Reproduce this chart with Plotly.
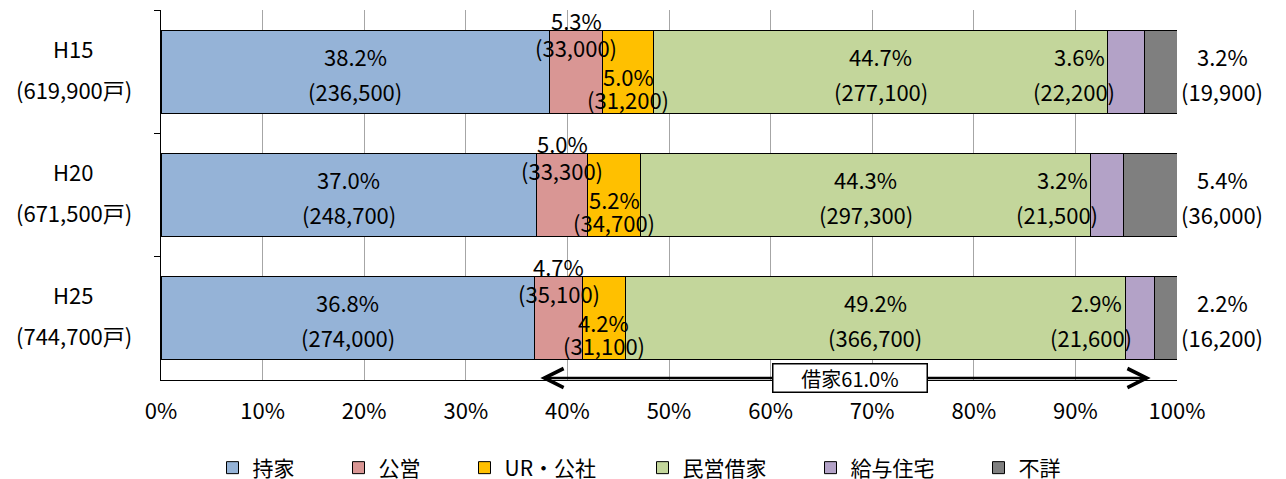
import plotly.graph_objects as go

years = ["H15", "H20", "H25"]
totals = ["619,900", "671,500", "744,700"]
series_names = ["持家", "公営", "UR・公社", "民営借家", "給与住宅", "不詳"]
colors = ["#95B3D7", "#D99694", "#FFC000", "#C3D69B", "#B3A2C7", "#7F7F7F"]
tick_values = [0, 10, 20, 30, 40, 50, 60, 70, 80, 90, 100]
tick_labels = ["0%", "10%", "20%", "30%", "40%", "50%", "60%", "70%", "80%", "90%", "100%"]

pct_owned = [38.2, 37.0, 36.8]
pct_public = [5.3, 5.0, 4.7]
pct_ur = [5.0, 5.2, 4.2]
pct_private = [44.7, 44.3, 49.2]
pct_company = [3.6, 3.2, 2.9]
pct_unknown = [3.2, 5.4, 2.2]

cnt_owned = [236500, 248700, 274000]
cnt_public = [33000, 33300, 35100]
cnt_ur = [31200, 34700, 31100]
cnt_private = [277100, 297300, 366700]
cnt_company = [22200, 21500, 21600]
cnt_unknown = [19900, 36000, 16200]

pcts = [pct_owned, pct_public, pct_ur, pct_private, pct_company, pct_unknown]
cnts = [cnt_owned, cnt_public, cnt_ur, cnt_private, cnt_company, cnt_unknown]

FONT = "Noto Sans CJK JP"
LBL = 22

# plot area geometry (px)
L, R, T, B = 161, 109, 10, 99
W, H = 1286, 479
PW = W - L - R
PH = H - T - B

fig = go.Figure()
legend_keys = ["legend", "legend2", "legend3", "legend4", "legend5", "legend6"]
for name, col, vals, lk in zip(series_names, colors, pcts, legend_keys):
    fig.add_trace(go.Bar(
        y=years, x=vals, name=name, orientation="h", legend=lk,
        marker=dict(color=col, line=dict(color="#000000", width=1)),
        hoverinfo="x+name",
    ))

ann = []
for i, yr in enumerate(years):
    starts = []
    s = 0.0
    for vals in pcts:
        starts.append(s)
        s += vals[i]
    for k, (vals, cv) in enumerate(zip(pcts, cnts)):
        p = vals[i]
        c = cv[i]
        t1 = f"{p:.1f}%"
        t2 = f"({c:,})"
        st = starts[k]
        mid = st + p / 2
        if k in (0, 3):
            spec = [(t1, mid, 16, 0, "center"), (t2, mid, -19, 0, "center")]
        elif k == 1:
            spec = [(t1, mid, 52, 0, "center"), (t2, mid, 25, 0, "center")]
        elif k == 2:
            spec = [(t1, mid, -4, 0, "center"), (t2, mid, -27, 0, "center")]
        elif k == 4:
            spec = [(t1, st, 16, -1, "right"), (t2, st, -19, 9, "right")]
        else:
            spec = [(t1, 100, 16, 45, "center"), (t2, 100, -19, 45, "center")]
        for txt, xx, ys, xs, xa in spec:
            ann.append(dict(x=xx, y=yr, xref="x", yref="y", text=txt,
                            showarrow=False, xanchor=xa, yanchor="middle",
                            xshift=xs, yshift=ys,
                            font=dict(family=FONT, size=LBL, color="#000000")))
    ann.append(dict(x=(73 - L) / PW, y=yr, xref="paper", yref="y", text=yr,
                    showarrow=False, xanchor="center", yanchor="middle", yshift=24,
                    font=dict(family=FONT, size=LBL, color="#000000")))
    ann.append(dict(x=(74 - L) / PW, y=yr, xref="paper", yref="y", text=f"({totals[i]}戸)",
                    showarrow=False, xanchor="center", yanchor="middle", yshift=-17,
                    font=dict(family=FONT, size=LBL, color="#000000")))

# rental (借家) arrow for the latest year
last = len(years) - 1
arrow_start = pct_owned[last]
rental = pct_public[last] + pct_ur[last] + pct_private[last] + pct_company[last]
arrow_end = arrow_start + rental
arrow_y = 2 / PH
ann.append(dict(x=arrow_end, y=arrow_y, xref="x", yref="paper",
                ax=arrow_start, ay=0, axref="x", ayref="pixel",
                showarrow=True, arrowside="end+start", arrowhead=5,
                arrowsize=1.5, arrowwidth=2.5, arrowcolor="#000000",
                standoff=4, startstandoff=4, text=""))
ann.append(dict(x=(arrow_start + arrow_end) / 2, y=arrow_y, xref="x", yref="paper",
                text=f"借家{rental:.1f}%", showarrow=False,
                xanchor="center", yanchor="middle", xshift=5,
                bgcolor="#FFFFFF", bordercolor="#000000", borderwidth=1.5,
                width=151, height=25, borderpad=1,
                font=dict(family=FONT, size=20, color="#000000")))

layout_legends = {}
square_centers = [234.5, 360.5, 486.5, 664.5, 832.5, 1000.5]
for lk, cx in zip(legend_keys, square_centers):
    layout_legends[lk] = dict(
        orientation="h", x=(cx - 22 - L) / PW, xanchor="left",
        y=(PH + T - 468) / PH, yanchor="middle",
        font=dict(family=FONT, size=21, color="#000000"),
        bgcolor="rgba(0,0,0,0)", itemclick=False, itemdoubleclick=False)

fig.update_layout(
    width=W, height=H,
    barmode="stack", bargap=0.327,
    margin=dict(l=L, r=R, t=T, b=B, autoexpand=False),
    paper_bgcolor="#FFFFFF", plot_bgcolor="#FFFFFF",
    font=dict(family=FONT, size=20, color="#000000"),
    annotations=ann,
    showlegend=True,
    xaxis=dict(range=[0, 100], tickvals=tick_values, ticktext=tick_labels,
               showgrid=True, gridcolor="#A6A6A6", gridwidth=1.2,
               showline=True, linecolor="#000000", linewidth=1,
               zeroline=False, ticks="", ticklabelstandoff=12, automargin=False,
               tickfont=dict(family=FONT, size=22, color="#000000")),
    yaxis=dict(range=[len(years) - 0.5, -0.5], type="category", showticklabels=False,
               showline=True, linecolor="#000000", linewidth=1, automargin=False,
               ticks="outside", ticklen=6, tickcolor="#000000", tickson="boundaries",
               showgrid=False, zeroline=False),
    **layout_legends,
)

fig.write_html("out.html",
               config={"displayModeBar": False},
               post_script="document.body.style.margin='0';document.body.style.overflow='hidden';")
